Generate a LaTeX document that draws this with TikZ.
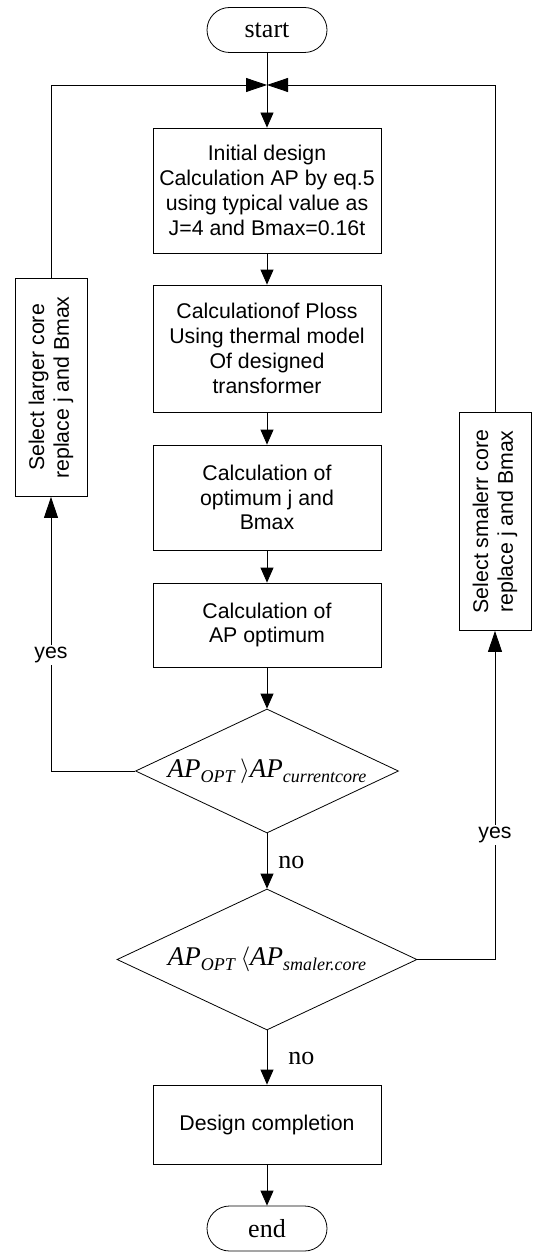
\documentclass[tikz,border=0pt]{standalone}
\usepackage{fontspec}
\setmainfont{Liberation Sans}
\newfontfamily\seriffont{Liberation Serif}
\usetikzlibrary{arrows.meta,shapes.geometric}
\newcommand\APsub[1]{\textit{AP}\raisebox{-5pt}{\fontsize{18}{18}\selectfont\textit{#1}}}
\begin{document}
\begin{tikzpicture}[x=1pt,y=-1pt,
  line width=0.8pt,
  txt/.style={font=\fontsize{21.3}{24.8}\selectfont},
  proc/.style={draw, rectangle, align=center, minimum width=228pt, inner sep=0pt, txt},
  term/.style={draw, rounded corners=22.5pt, minimum width=120pt, minimum height=45pt, inner sep=0pt, font=\seriffont\fontsize{26}{28}\selectfont},
  dec/.style={draw, diamond, inner sep=0pt, font=\seriffont\fontsize{27}{30}\selectfont},
  side/.style={draw, rectangle, align=center, rotate=90, minimum width=218pt, minimum height=72pt, inner sep=0pt, txt},
  arr/.style={-{Triangle[length=15pt,width=13pt]}},
  arrB/.style={-{Triangle[length=21pt,width=14pt]}},
  lbl/.style={fill=white, inner sep=2pt, txt},
  serlbl/.style={font=\seriffont\fontsize{26}{28}\selectfont, inner sep=0pt, anchor=west}
]
\useasboundingbox (0,0) rectangle (534,1252);
\node[term] (start) at (267,30) {start};
\coordinate (J) at (267,85);
\node[proc, minimum height=125pt] (b1) at (267,190.5) {Initial design\\Calculation AP by eq.5\\using typical value as\\J=4 and Bmax=0.16t};
\node[proc, minimum height=127pt] (b2) at (267,348.5) {Calculationof Ploss\\Using thermal model\\Of designed\\transformer};
\node[proc, minimum height=105pt] (b3) at (267,497.5) {Calculation of\\optimum j and\\Bmax};
\node[proc, minimum height=84pt] (b4) at (267,625) {Calculation of\\AP optimum};
\node[dec, aspect=2.12, minimum width=263pt, minimum height=124pt] (d1) at (267,771) {\APsub{OPT}\,$\rangle$\APsub{currentcore}};
\node[dec, aspect=2.13, minimum width=300pt, minimum height=141pt] (d2) at (267,959.5) {\APsub{OPT}\,$\langle$\APsub{smaler.core}};
\node[proc, minimum height=79pt] (b5) at (267,1124.5) {Design completion};
\node[term] (end) at (267,1228.5) {end};
\node[side] (L) at (51,387.5) {Select larger core\\replace j and Bmax};
\node[side] (R) at (495,521.5) {Select smalerr core\\replace j and Bmax};
\draw (start) -- (J);
\draw[arr] (J) -- (b1);
\draw[arr] (b1) -- (b2);
\draw[arr] (b2) -- (b3);
\draw[arr] (b3) -- (b4);
\draw[arr] (b4) -- (d1);
\draw[arr] (d1) -- (d2);
\draw[arr] (d2) -- (b5);
\draw[arr] (b5) -- (end);
\draw[arrB] (d1.west) -| (L);
\draw[arrB] (L) |- (J);
\draw[arrB] (d2.east) -| (R);
\draw[arrB] (R) |- (J);
\node[lbl] (yesL) at (51,655) {yes};
\node[lbl] (yesR) at (495,835) {yes};
\node[serlbl] (no1) at (278,862) {no};
\node[serlbl] (no2) at (288,1058) {no};
\end{tikzpicture}
\end{document}
